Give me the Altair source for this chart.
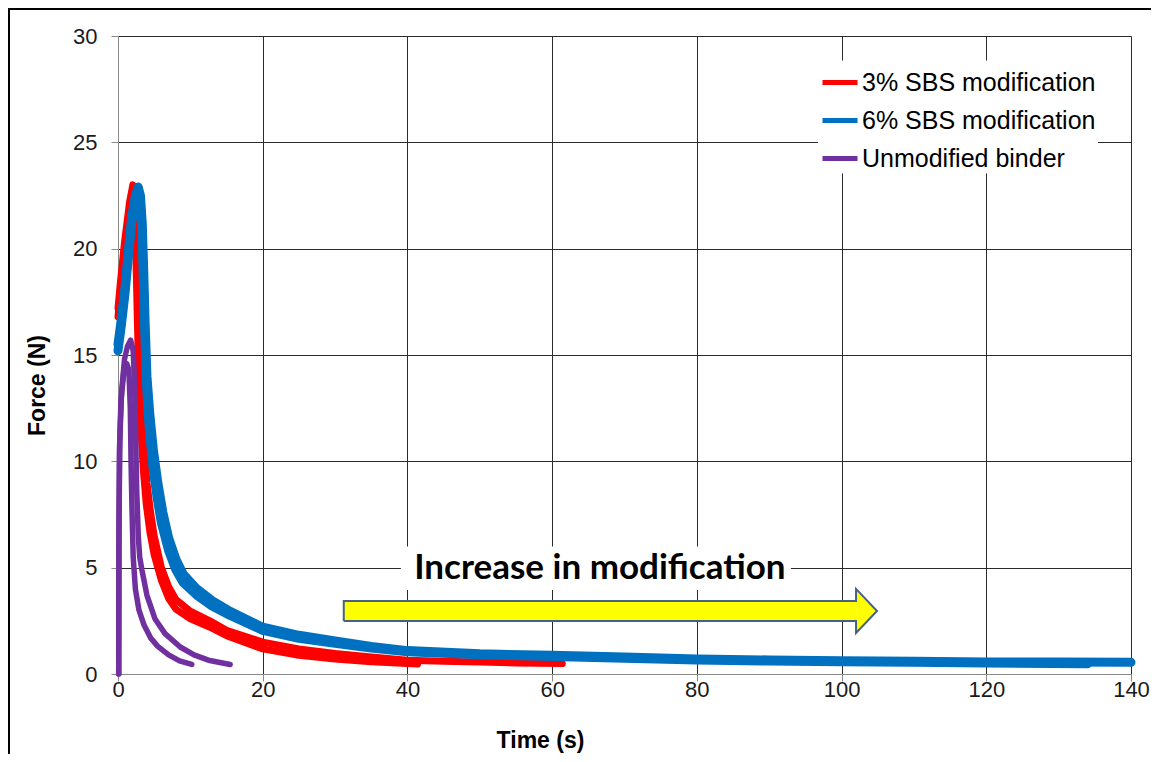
import altair as alt
import pandas as pd

FONT = "Liberation Sans, Arial, sans-serif"
SERIES = ["3% SBS modification", "6% SBS modification", "Unmodified binder"]
COLORS = ["#FF0000", "#0070C0", "#7030A0"]

# ---- replicate curves (time s, force N) ----
red_a_t = [0, 0.3, 0.9, 1.6, 2.05, 2.3, 2.5, 2.7, 2.9, 3.2, 3.6, 4.0, 4.5, 5.0, 6.0, 7.0, 8.0, 10, 12.7, 15, 20, 25, 30, 35, 40, 45, 50, 55, 61.4]
red_a_f = [17.2, 18.3, 20.3, 22.2, 23.0, 22.6, 21.0, 18.5, 16.0, 13.2, 10.8, 9.0, 7.6, 6.5, 5.0, 4.1, 3.5, 2.95, 2.5, 2.05, 1.5, 1.18, 0.97, 0.8, 0.65, 0.6, 0.56, 0.52, 0.49]

red_b_t = [0, 0.3, 0.9, 1.6, 2.0, 2.25, 2.45, 2.65, 2.85, 3.1, 3.5, 3.9, 4.4, 5.0, 6.0, 7.0, 8.0, 10, 12.7, 15, 20, 25, 30, 35, 41.4]
red_b_f = [16.8, 18.0, 20.0, 21.9, 22.7, 22.0, 20.0, 17.0, 14.2, 11.8, 9.6, 8.0, 6.7, 5.6, 4.4, 3.55, 3.05, 2.6, 2.2, 1.8, 1.18, 0.88, 0.7, 0.57, 0.47]

blue_a_t = [0, 0.5, 1.0, 1.4, 1.9, 2.4, 2.8, 3.1, 3.35, 3.55, 3.75, 4.0, 4.4, 4.9, 5.5, 6.2, 7.0, 8.0, 9.0, 10.9, 13, 15.5, 20, 25, 30, 35, 40, 50, 60, 70, 80, 90, 100, 110, 120, 130, 140]
blue_a_f = [15.5, 16.8, 18.3, 19.8, 21.5, 22.5, 22.9, 22.5, 21.2, 19.0, 16.5, 14.0, 12.2, 10.5, 9.0, 7.6, 6.4, 5.4, 4.7, 4.0, 3.45, 2.95, 2.2, 1.82, 1.56, 1.3, 1.1, 0.95, 0.88, 0.8, 0.71, 0.66, 0.62, 0.6, 0.57, 0.56, 0.55]

blue_b_t = [0, 0.5, 1.0, 1.4, 1.9, 2.4, 2.75, 3.05, 3.3, 3.5, 3.7, 3.95, 4.3, 4.8, 5.4, 6.0, 7.0, 8.0, 9.0, 10.9, 13, 15.5, 20, 25, 30, 35, 40, 50, 60, 70, 80, 90, 100, 110, 120, 134]
blue_b_f = [15.2, 16.5, 18.0, 19.5, 21.2, 22.3, 22.7, 22.3, 21.0, 18.5, 16.0, 13.5, 11.6, 9.8, 8.3, 7.1, 5.8, 4.9, 4.3, 3.7, 3.2, 2.75, 2.05, 1.68, 1.44, 1.22, 1.05, 0.9, 0.82, 0.74, 0.66, 0.61, 0.58, 0.55, 0.52, 0.48]

purple_a_t = [0.1, 0.12, 0.2, 0.4, 0.8, 1.2, 1.5, 1.7, 1.8, 1.95, 2.1, 2.4, 2.9, 3.6, 4.5, 5.5, 7.0, 8.5, 10.2]
purple_a_f = [0, 6, 10.5, 12.8, 14.2, 14.6, 14.3, 12.5, 10, 7.5, 5.5, 4.0, 3.0, 2.3, 1.7, 1.3, 0.9, 0.62, 0.45]

purple_b_t = [0.1, 0.14, 0.25, 0.5, 0.9, 1.3, 1.75, 2.1, 2.3, 2.45, 2.6, 2.8, 3.0, 3.3, 4.0, 5.1, 6.5, 8.6, 10.5, 12.5, 15.5]
purple_b_f = [0, 7, 11, 13.3, 14.8, 15.4, 15.7, 15.2, 13.5, 11, 8.5, 6.5, 5.5, 4.9, 3.7, 2.6, 1.9, 1.27, 0.9, 0.65, 0.45]

x_ticks = [0, 20, 40, 60, 80, 100, 120, 140]
y_ticks = [0, 5, 10, 15, 20, 25, 30]

rows = []
def add(series, rep, ts, fs):
    for i, (t, f) in enumerate(zip(ts, fs)):
        rows.append({"series": series, "rep": rep, "t": t, "F": f, "i": i})

add(SERIES[0], "a", red_a_t, red_a_f)
add(SERIES[0], "b", red_b_t, red_b_f)
add(SERIES[1], "a", blue_a_t, blue_a_f)
add(SERIES[1], "b", blue_b_t, blue_b_f)
add(SERIES[2], "a", purple_a_t, purple_a_f)
add(SERIES[2], "b", purple_b_t, purple_b_f)
df = pd.DataFrame(rows)

xs = alt.Scale(domain=[0, 140], nice=False, zero=False)
ys = alt.Scale(domain=[0, 30], nice=False, zero=False)

x_axis = alt.Axis(values=x_ticks, title="Time (s)", grid=True, gridColor="#2b2b2b", gridWidth=1,
                  domainColor="#8a8a8a", tickColor="#8a8a8a", tickSize=7, labelFontSize=22,
                  labelFont=FONT, labelColor="#1a1a1a", labelPadding=-2, labelFlush=False,
                  titleFont=FONT, titleFontSize=23, titleFontWeight="bold", titleColor="#000000",
                  titleX=422, titleY=73, titleBaseline="alphabetic")
y_axis = alt.Axis(values=y_ticks, title="Force (N)", grid=True, gridColor="#2b2b2b", gridWidth=1,
                  domainColor="#8a8a8a", tickColor="#8a8a8a", tickSize=7, labelFontSize=22,
                  labelFont=FONT, labelColor="#1a1a1a", labelPadding=14,
                  titleFont=FONT, titleFontSize=23, titleFontWeight="bold", titleColor="#000000",
                  titleX=-74, titleY=349, titleBaseline="alphabetic")

color = alt.Color("series:N", scale=alt.Scale(domain=SERIES, range=COLORS), title=None,
                  legend=alt.Legend(orient="none", legendX=700, legendY=24.5, direction="vertical",
                                    symbolType="stroke", symbolSize=1225, symbolStrokeWidth=5,
                                    labelFont=FONT, labelFontSize=25, labelColor="#000000",
                                    labelOffset=2, labelLimit=400, rowPadding=5,
                                    fillColor="#ffffff", padding=2))

def curve(series, width):
    return alt.Chart(df).transform_filter(alt.datum.series == series).mark_line(
        strokeWidth=width, strokeCap="round", strokeJoin="round"
    ).encode(
        x=alt.X("t:Q", scale=xs, axis=x_axis),
        y=alt.Y("F:Q", scale=ys, axis=y_axis),
        color=color,
        detail="rep:N",
        order="i:Q",
    )

# ---- annotation: white label box, text and yellow arrow ----
box = pd.DataFrame({"x1": [39.1], "x2": [93.0], "y1": [3.95], "y2": [6.0]})
box_layer = alt.Chart(box).mark_rect(color="#ffffff").encode(
    x=alt.X("x1:Q", scale=xs, axis=x_axis), x2="x2:Q",
    y=alt.Y("y1:Q", scale=ys, axis=y_axis), y2="y2:Q")

label = pd.DataFrame({"x": [66.6], "y": [4.47], "txt": ["Increase in modification"]})
label_layer = alt.Chart(label).mark_text(font="Lato", fontSize=35, fontWeight="bold", color="#000000",
                                         baseline="alphabetic", align="center").encode(
    x=alt.X("x:Q", scale=xs, axis=x_axis), y=alt.Y("y:Q", scale=ys, axis=y_axis), text="txt:N")

ARROW_STROKE = "#44618A"
shaft = pd.DataFrame({"x1": [31.2], "x2": [102.0], "y1": [2.49], "y2": [3.43]})
shaft_layer = alt.Chart(shaft).mark_rect(color="#FFFF00").encode(
    x=alt.X("x1:Q", scale=xs, axis=x_axis), x2="x2:Q",
    y=alt.Y("y1:Q", scale=ys, axis=y_axis), y2="y2:Q")

head = pd.DataFrame({"x": [102.0, 104.9], "lo": [1.93, 2.96], "hi": [4.0, 2.96]})
head_layer = alt.Chart(head).mark_area(color="#FFFF00", fillOpacity=1).encode(
    x=alt.X("x:Q", scale=xs, axis=x_axis), y=alt.Y("lo:Q", scale=ys, axis=y_axis), y2="hi:Q")

outline = pd.DataFrame({
    "x": [31.2, 102.0, 102.0, 104.9, 102.0, 102.0, 31.2, 31.2],
    "y": [2.49, 2.49, 1.93, 2.96, 4.0, 3.43, 3.43, 2.49],
    "k": [0, 1, 2, 3, 4, 5, 6, 7],
})
outline_layer = alt.Chart(outline).mark_line(color=ARROW_STROKE, strokeWidth=2, strokeJoin="miter").encode(
    x=alt.X("x:Q", scale=xs, axis=x_axis), y=alt.Y("y:Q", scale=ys, axis=y_axis), order="k:Q")

# ---- outer picture frame (top and left edges) ----
frame_src = pd.DataFrame({"k": [0]})
frame_top = alt.Chart(frame_src).mark_rule(color="#000000", strokeWidth=2).encode(
    x=alt.value(-110), x2=alt.value(1040), y=alt.value(-27))
frame_left = alt.Chart(frame_src).mark_rule(color="#000000", strokeWidth=2).encode(
    x=alt.value(-109), y=alt.value(-28), y2=alt.value(720))

chart = alt.layer(
    box_layer, label_layer, shaft_layer, head_layer, outline_layer,
    curve(SERIES[0], 7), curve(SERIES[1], 9), curve(SERIES[2], 5.5),
    frame_top, frame_left,
).properties(
    width=1013, height=638,
    padding={"left": 110, "top": 28, "right": 20, "bottom": 80},
    autosize=alt.AutoSizeParams(type="none"),
    background="#ffffff",
).configure_view(strokeWidth=0)

chart.save("out.html", embed_options={"renderer": "svg", "actions": False})
